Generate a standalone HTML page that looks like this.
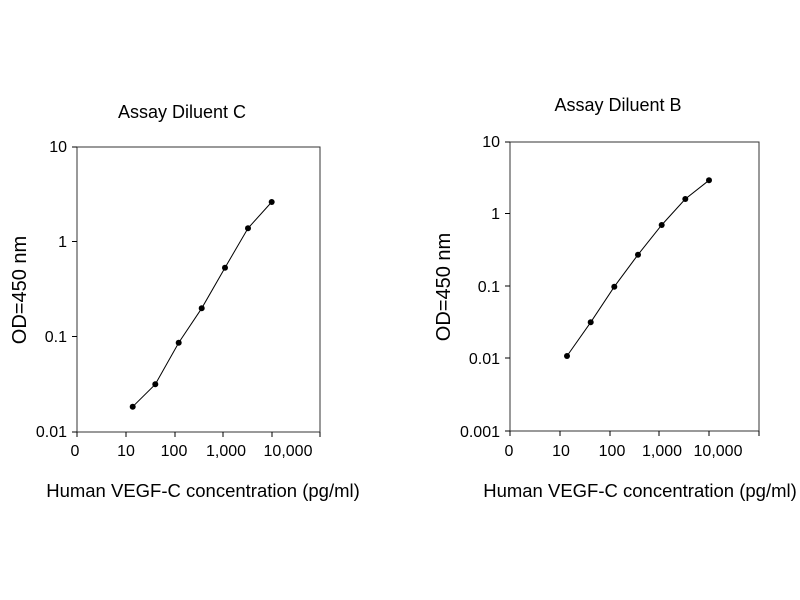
<!DOCTYPE html>
<html><head><style>body{margin:0;background:#fff}svg{display:block}</style></head><body>
<svg width="800" height="600" xmlns="http://www.w3.org/2000/svg" font-family="Liberation Sans, Arial, sans-serif" fill="#000">
<rect width="800" height="600" fill="#fff"/>
<!-- Left chart -->
<text x="182" y="118" font-size="18" text-anchor="middle">Assay Diluent C</text>
<rect x="77" y="147" width="243" height="285" fill="none" stroke="#333" stroke-width="1"/>
<g stroke="#000" stroke-width="1">
<line x1="72" y1="147" x2="77" y2="147"/><line x1="72" y1="241.5" x2="77" y2="241.5"/><line x1="72" y1="336.5" x2="77" y2="336.5"/><line x1="72" y1="432" x2="77" y2="432"/>
<line x1="77" y1="432" x2="77" y2="437"/><line x1="126" y1="432" x2="126" y2="437"/><line x1="175" y1="432" x2="175" y2="437"/><line x1="223" y1="432" x2="223" y2="437"/><line x1="272" y1="432" x2="272" y2="437"/><line x1="320" y1="432" x2="320" y2="437"/>
</g>
<g font-size="16" text-anchor="end"><text x="67" y="152">10</text><text x="67" y="247">1</text><text x="67" y="342">0.1</text><text x="67" y="437">0.01</text></g>
<g font-size="16" text-anchor="middle"><text x="75" y="456">0</text><text x="126" y="456">10</text><text x="174" y="456">100</text><text x="226" y="456">1,000</text><text x="288" y="456">10,000</text></g>
<text x="203" y="497" font-size="18.5" text-anchor="middle">Human VEGF-C concentration (pg/ml)</text>
<text transform="translate(26,290) rotate(-90)" font-size="20" text-anchor="middle">OD=450 nm</text>
<polyline fill="none" stroke="#000" stroke-width="1" points="132.7,406.7 155.3,384.3 178.7,342.7 201.7,308.3 225,267.7 248,228.3 271.7,202"/>
<g><circle cx="132.7" cy="406.7" r="3"/><circle cx="155.3" cy="384.3" r="3"/><circle cx="178.7" cy="342.7" r="3"/><circle cx="201.7" cy="308.3" r="3"/><circle cx="225" cy="267.7" r="3"/><circle cx="248" cy="228.3" r="3"/><circle cx="271.7" cy="202" r="3"/></g>
<!-- Right chart -->
<text x="618" y="111" font-size="18" text-anchor="middle">Assay Diluent B</text>
<rect x="510" y="142" width="249" height="289" fill="none" stroke="#333" stroke-width="1"/>
<g stroke="#000" stroke-width="1">
<line x1="505" y1="142" x2="510" y2="142"/><line x1="505" y1="213.5" x2="510" y2="213.5"/><line x1="505" y1="286" x2="510" y2="286"/><line x1="505" y1="358" x2="510" y2="358"/><line x1="505" y1="431" x2="510" y2="431"/>
<line x1="510" y1="431" x2="510" y2="436"/><line x1="560" y1="431" x2="560" y2="436"/><line x1="610" y1="431" x2="610" y2="436"/><line x1="659" y1="431" x2="659" y2="436"/><line x1="709" y1="431" x2="709" y2="436"/><line x1="759" y1="431" x2="759" y2="436"/>
</g>
<g font-size="16" text-anchor="end"><text x="500" y="147">10</text><text x="500" y="219">1</text><text x="500" y="292">0.1</text><text x="500" y="364">0.01</text><text x="500" y="437">0.001</text></g>
<g font-size="16" text-anchor="middle"><text x="509" y="456">0</text><text x="561" y="456">10</text><text x="612" y="456">100</text><text x="662" y="456">1,000</text><text x="718" y="456">10,000</text></g>
<text x="640" y="497" font-size="18.5" text-anchor="middle">Human VEGF-C concentration (pg/ml)</text>
<text transform="translate(450,287) rotate(-90)" font-size="20" text-anchor="middle">OD=450 nm</text>
<polyline fill="none" stroke="#000" stroke-width="1" points="567,356 590.7,322.3 614.3,286.7 638,254.7 661.7,225 685.3,199 709,180.3"/>
<g><circle cx="567" cy="356" r="3"/><circle cx="590.7" cy="322.3" r="3"/><circle cx="614.3" cy="286.7" r="3"/><circle cx="638" cy="254.7" r="3"/><circle cx="661.7" cy="225" r="3"/><circle cx="685.3" cy="199" r="3"/><circle cx="709" cy="180.3" r="3"/></g>
</svg>
</body></html>
